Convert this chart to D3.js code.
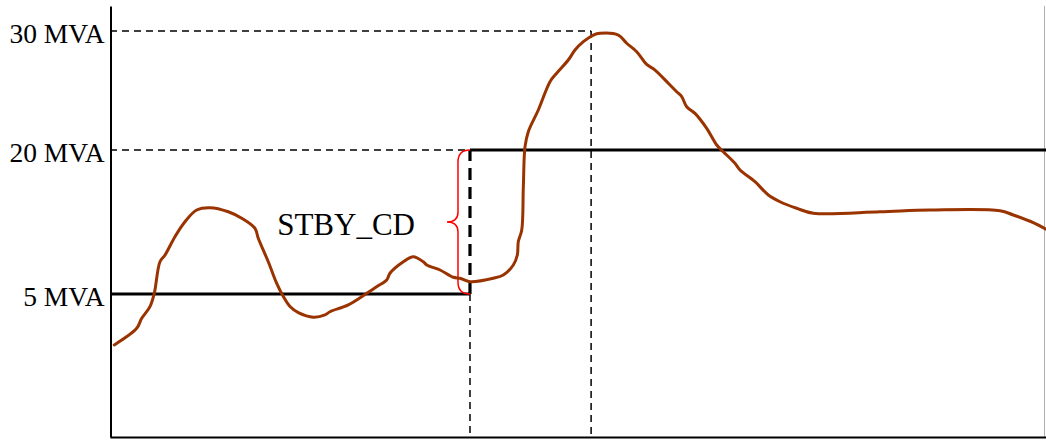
<!DOCTYPE html>
<html>
<head>
<meta charset="utf-8">
<script src="https://cdn.jsdelivr.net/npm/d3@7"></script>
<style>
  html, body { margin: 0; padding: 0; background: #fff; }
  svg { display: block; }
</style>
</head>
<body>
<svg id="chart" width="1046" height="441"></svg>
<script>
// ---- data ----
const timeAxis = [0, 100];                // arbitrary time units
const levelTicks = [5, 20, 30];           // MVA tick values
const tickLabels = ["5 MVA", "20 MVA", "30 MVA"];
const stepTime = 38.46;                   // time of standby step change
const peakTime = 51.4;                    // time of peak demand
const lowLevel = 5, highLevel = 20, peakLevel = 30;
const annotation = "STBY_CD";

const loadT = [0.46, 2.85, 3.39, 4.27, 4.73, 5.34, 5.88, 6.94, 8.01, 9.26, 10.68, 12.64, 14.07, 15.49, 15.84, 16.91, 17.81, 18.52,
  19.23, 20.12, 21.72, 22.97, 23.50, 25.46, 27.43, 28.49, 29.56, 29.91, 31.34, 32.40, 33.47, 33.84, 35.26, 36.68, 37.39, 38.46,
  40.95, 42.02, 43.09, 43.52, 43.62, 43.99, 44.16, 44.34, 44.69, 45.76, 47.01, 47.72, 48.96, 49.68, 50.57, 51.64, 52.35,
  54.31, 55.20, 56.27, 57.34, 58.23, 59.65, 60.54, 61.08, 61.61, 62.50, 63.75, 64.82, 65.52, 66.77, 67.31, 68.91, 70.33,
  71.58, 73.36, 75.14, 82.26, 87.61, 95.09, 96.51, 98.64, 100];
const loadMVA = [3.22, 3.80, 4.15, 4.56, 5.07, 8.36, 9.06, 10.97, 12.53, 13.75, 13.99, 13.57, 12.89, 11.84, 10.80, 8.36, 6.11, 4.91,
  4.56, 4.35, 4.19, 4.27, 4.38, 4.62, 5.07, 5.76, 6.46, 7.16, 8.36, 8.89, 8.36, 8.02, 7.50, 6.74, 6.64, 6.28,
  6.64, 6.98, 8.02, 9.06, 10.45, 11.67, 16.18, 20.28, 21.54, 23.36, 25.74, 26.45, 27.56, 28.40, 29.10, 29.66, 29.81,
  29.66, 28.97, 28.26, 27.20, 26.72, 25.61, 24.90, 24.48, 23.64, 23.08, 21.82, 20.42, 19.82, 18.61, 17.92, 16.70, 15.31,
  14.61, 13.93, 13.41, 13.57, 13.75, 13.68, 13.23, 12.43, 11.74];

// ---- scales ----
const svg = d3.select("#chart");
const x = d3.scaleLinear().domain(timeAxis).range([110, 1046]);
// the original drawing is not proportional: piecewise linear level axis
const y = d3.scaleLinear().domain([0, 5, 20, 30, 32.1]).range([437, 294, 150, 31, 6]);

const font = "'Liberation Serif', 'Times New Roman', serif";

// right frame line (light)
svg.append("line")
  .attr("x1", 1044.5).attr("x2", 1044.5).attr("y1", y(32.1)).attr("y2", y(0))
  .attr("stroke", "#b0b0b0").attr("stroke-width", 1);

// reference dashed lines
svg.append("line")
  .attr("x1", x(0)).attr("x2", x(peakTime)).attr("y1", y(peakLevel)).attr("y2", y(peakLevel))
  .attr("stroke", "#000").attr("stroke-width", 1.3).attr("stroke-dasharray", "7,5");
svg.append("line")
  .attr("x1", x(0)).attr("x2", x(stepTime)).attr("y1", y(highLevel)).attr("y2", y(highLevel))
  .attr("stroke", "#000").attr("stroke-width", 1.3).attr("stroke-dasharray", "7,5");
svg.append("line")
  .attr("x1", x(peakTime)).attr("x2", x(peakTime)).attr("y1", y(peakLevel)).attr("y2", y(0))
  .attr("stroke", "#000").attr("stroke-width", 1.5).attr("stroke-dasharray", "7,5");
svg.append("line")
  .attr("x1", x(stepTime)).attr("x2", x(stepTime)).attr("y1", y(lowLevel)).attr("y2", y(0))
  .attr("stroke", "#000").attr("stroke-width", 1.5).attr("stroke-dasharray", "7,5");

// standby contract step
svg.append("line")
  .attr("x1", x(0)).attr("x2", x(stepTime)).attr("y1", y(lowLevel)).attr("y2", y(lowLevel))
  .attr("stroke", "#000").attr("stroke-width", 3);
svg.append("line")
  .attr("x1", x(stepTime)).attr("x2", x(stepTime)).attr("y1", y(lowLevel)).attr("y2", y(highLevel))
  .attr("stroke", "#000").attr("stroke-width", 3.2).attr("stroke-dasharray", "12,7");
svg.append("line")
  .attr("x1", x(stepTime)).attr("x2", x(100)).attr("y1", y(highLevel)).attr("y2", y(highLevel))
  .attr("stroke", "#000").attr("stroke-width", 3);

// red brace
{
  const xr = x(stepTime), yt = y(highLevel), yb = y(lowLevel);
  const xm = xr - 12, xt = xr - 23, ym = (yt + yb) / 2;
  const p = d3.path();
  p.moveTo(xr, yt);
  p.quadraticCurveTo(xm, yt, xm, yt + 12);
  p.lineTo(xm, ym - 10);
  p.quadraticCurveTo(xm, ym, xt, ym);
  p.quadraticCurveTo(xm, ym, xm, ym + 10);
  p.lineTo(xm, yb - 12);
  p.quadraticCurveTo(xm, yb, xr, yb);
  svg.append("path").attr("d", p.toString())
    .attr("fill", "none").attr("stroke", "#ff0000").attr("stroke-width", 1.5);
}

// load curve
const pts = loadT.map((t, i) => [t, loadMVA[i]]);
svg.append("path")
  .datum(pts)
  .attr("fill", "none")
  .attr("stroke", "#993300")
  .attr("stroke-width", 3)
  .attr("stroke-linejoin", "round")
  .attr("stroke-linecap", "round")
  .attr("d", d3.line().x(d => x(d[0])).y(d => y(d[1])).curve(d3.curveCatmullRom.alpha(0.5)));

// axes
const yAxis = d3.axisLeft(y).tickValues(levelTicks)
  .tickFormat((d, i) => tickLabels[i]).tickSize(0).tickSizeOuter(0).tickPadding(6);
const gy = svg.append("g").attr("transform", "translate(110.5,0)").call(yAxis);
gy.select(".domain").attr("stroke", "#000").attr("stroke-width", 2);
gy.selectAll("text").attr("font-family", font).attr("font-size", 27.5).attr("fill", "#000").attr("dy", "0.42em");

const xAxis = d3.axisBottom(x).tickValues([]).tickSize(0).tickSizeOuter(0);
const gx = svg.append("g").attr("transform", "translate(0,437)").call(xAxis);
gx.select(".domain").attr("stroke", "#000").attr("stroke-width", 2);

// annotation
svg.append("text")
  .attr("x", x(stepTime) - 55).attr("y", y(11.1))
  .attr("text-anchor", "end")
  .attr("font-family", font).attr("font-size", 31).attr("fill", "#000")
  .text(annotation);
</script>
</body>
</html>
